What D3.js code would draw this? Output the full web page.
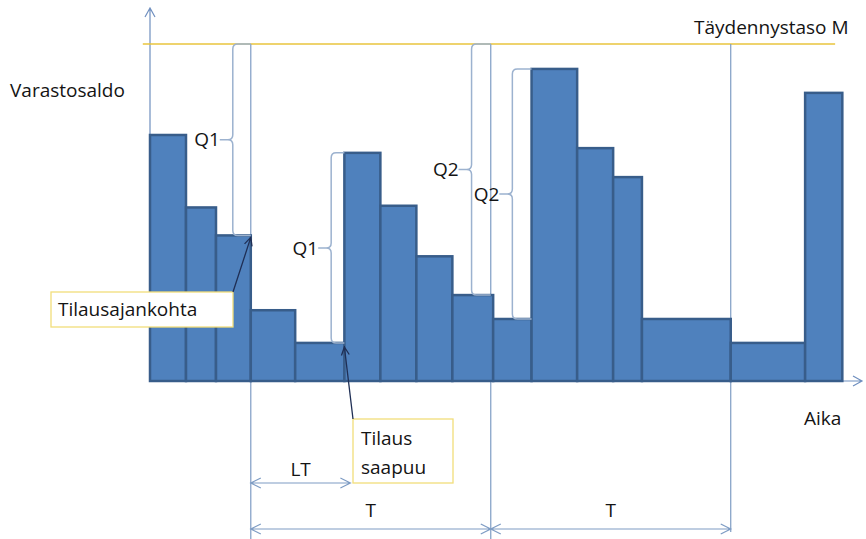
<!DOCTYPE html>
<html>
<head>
<meta charset="utf-8">
<script src="https://cdn.jsdelivr.net/npm/d3@7"></script>
<style>
  html, body { margin: 0; padding: 0; background: #fff; }
  text { font-family: "Open Sans", "Noto Sans", sans-serif; fill: #141414; font-size: 19px; }
</style>
</head>
<body>
<div id="chart"></div>
<script>
// Varastosaldo (jaksotilaus) – porrastettu pylväskaavio
const edges = [0, 1.5, 2.75, 4.2, 6.05, 8.1, 9.6, 11.1, 12.6, 14.3, 15.9, 17.8, 19.3, 20.5, 24.2, 27.3, 28.85];
const levels = [73, 51.5, 43.2, 21, 11.3, 67.7, 52, 37, 25.5, 18.4, 92.6, 69.1, 60.5, 18.4, 11.3, 85.5];
const levelM = 100;
const orderTimes = [4.2, 14.2, 24.2];
const leadTime = [4.2, 8.35];
// sulkeet: x, yläpää, alapää, mihin päät kaartuvat
const braceLabels = ['Q1', 'Q1', 'Q2', 'Q2'];
const braceX = [3.45, 7.55, 13.4, 15.1];
const braceTop = [100, 67.7, 100, 92.6];
const braceBottom = [43.2, 11.3, 25.5, 18.4];
const braceEnd = [4.2, 8.1, 14.2, 15.9];

const width = 866, height = 539;
const x = d3.scaleLinear().domain([0, 29.67]).range([150, 862]);
const y = d3.scaleLinear().domain([0, 100]).range([381, 44]);

const svg = d3.select('#chart').append('svg')
  .attr('width', width).attr('height', height);

const bars = levels.map((v, i) => ({ x0: edges[i], x1: edges[i + 1], v }));

// akselit
const axisColor = '#6f8fbf';
svg.append('path')
  .attr('fill', 'none').attr('stroke', axisColor).attr('stroke-width', 1.2)
  .attr('d', `M${x(0)},${y(0)}L${x(0)},${y(110.7)}M${x(0) - 5},${y(110.7) + 9}L${x(0)},${y(110.7)}L${x(0) + 5},${y(110.7) + 9}`);
svg.append('path')
  .attr('fill', 'none').attr('stroke', axisColor).attr('stroke-width', 1.2)
  .attr('d', `M${x(0)},${y(0)}L${x(29.67)},${y(0)}M${x(29.67) - 9},${y(0) - 5}L${x(29.67)},${y(0)}L${x(29.67) - 9},${y(0) + 5}`);

// täydennystaso M
svg.append('line')
  .attr('x1', x(-0.3)).attr('x2', x(28.55))
  .attr('y1', y(levelM)).attr('y2', y(levelM))
  .attr('stroke', '#e8c43c').attr('stroke-width', 1.3);

// tilaushetket
svg.append('g')
  .selectAll('line')
  .data(orderTimes)
  .join('line')
  .attr('x1', d => x(d)).attr('x2', d => x(d))
  .attr('y1', y(levelM)).attr('y2', d => d === orderTimes[2] ? 532 : 539)
  .attr('stroke', '#7e9cc4').attr('stroke-width', 1.2);

// pylväät
svg.append('g')
  .selectAll('rect')
  .data(bars)
  .join('rect')
  .attr('x', d => x(d.x0))
  .attr('y', d => y(d.v))
  .attr('width', d => x(d.x1) - x(d.x0))
  .attr('height', d => y(0) - y(d.v))
  .attr('fill', '#4f81bd')
  .attr('stroke', '#385d8a')
  .attr('stroke-width', 2.5);

// aaltosulkeet
function bracePath(i) {
  const bx = x(braceX[i]), t = y(braceTop[i]), b = y(braceBottom[i]), e = x(braceEnd[i]);
  const m = (t + b) / 2, r = 5, tip = 13;
  return `M${e},${t}L${bx + r},${t}Q${bx},${t} ${bx},${t + r}L${bx},${m - r}Q${bx},${m} ${bx - r},${m}L${bx - tip},${m}` +
    `M${bx - r},${m}Q${bx},${m} ${bx},${m + r}L${bx},${b - r}Q${bx},${b} ${bx + r},${b}L${e},${b}`;
}
const braces = svg.append('g');
braces.selectAll('path')
  .data(braceLabels)
  .join('path')
  .attr('d', (d, i) => bracePath(i))
  .attr('fill', 'none').attr('stroke', '#9cb2cf').attr('stroke-width', 1.5);
braces.selectAll('text')
  .data(braceLabels)
  .join('text')
  .attr('x', (d, i) => x(braceX[i]) - 13)
  .attr('y', (d, i) => (y(braceTop[i]) + y(braceBottom[i])) / 2)
  .attr('dy', '0.35em')
  .attr('text-anchor', 'end')
  .text(d => d);

// mittanuolet LT ja T
function dimArrow(a, b, yy) {
  const xa = x(a), xb = x(b);
  return `M${xa},${yy}L${xb},${yy}M${xa + 10},${yy - 5}L${xa},${yy}L${xa + 10},${yy + 5}M${xb - 10},${yy - 5}L${xb},${yy}L${xb - 10},${yy + 5}`;
}
const dims = [
  { a: leadTime[0], b: leadTime[1], y: 483, label: 'LT', ly: 476 },
  { a: orderTimes[0], b: orderTimes[1], y: 529, label: 'T', ly: 517 },
  { a: orderTimes[1], b: orderTimes[2], y: 529, label: 'T', ly: 517 }
];
svg.append('g')
  .selectAll('path')
  .data(dims)
  .join('path')
  .attr('d', d => dimArrow(d.a, d.b, d.y))
  .attr('fill', 'none').attr('stroke', '#7e9cc4').attr('stroke-width', 1.2);
svg.append('g')
  .selectAll('text')
  .data(dims)
  .join('text')
  .attr('x', d => (x(d.a) + x(d.b)) / 2)
  .attr('y', d => d.ly)
  .attr('text-anchor', 'middle')
  .text(d => d.label);

// selitelaatikot
const callouts = svg.append('g');
callouts.append('rect')
  .attr('x', 51).attr('y', 292).attr('width', 182).attr('height', 35)
  .attr('fill', '#fff').attr('stroke', '#f2de7a').attr('stroke-width', 1.3);
callouts.append('text').attr('x', 58).attr('y', 316).text('Tilausajankohta');
callouts.append('rect')
  .attr('x', 353).attr('y', 419).attr('width', 100).attr('height', 64)
  .attr('fill', '#fff').attr('stroke', '#f2de7a').attr('stroke-width', 1.3);
callouts.append('text').attr('x', 361).attr('y', 445).text('Tilaus');
callouts.append('text').attr('x', 361).attr('y', 474).text('saapuu');

// osoitinnuolet
function pointer(x1, y1, x2, y2) {
  const ang = Math.atan2(y2 - y1, x2 - x1), L = 9, w = 0.45;
  return `M${x1},${y1}L${x2},${y2}` +
    `M${x2 - L * Math.cos(ang - w)},${y2 - L * Math.sin(ang - w)}L${x2},${y2}L${x2 - L * Math.cos(ang + w)},${y2 - L * Math.sin(ang + w)}`;
}
callouts.append('path')
  .attr('d', pointer(233, 292, x(orderTimes[0]), y(levels[2]) + 2))
  .attr('fill', 'none').attr('stroke', '#1f2f55').attr('stroke-width', 1.3);
callouts.append('path')
  .attr('d', pointer(353, 419, x(edges[5]), y(levels[4]) + 4))
  .attr('fill', 'none').attr('stroke', '#1f2f55').attr('stroke-width', 1.3);

// akselien nimet
svg.append('text').attr('x', 10).attr('y', 97).text('Varastosaldo');
svg.append('text').attr('x', 804).attr('y', 425).text('Aika');
svg.append('text').attr('x', 694).attr('y', 34).text('Täydennystaso M');
</script>
</body>
</html>
